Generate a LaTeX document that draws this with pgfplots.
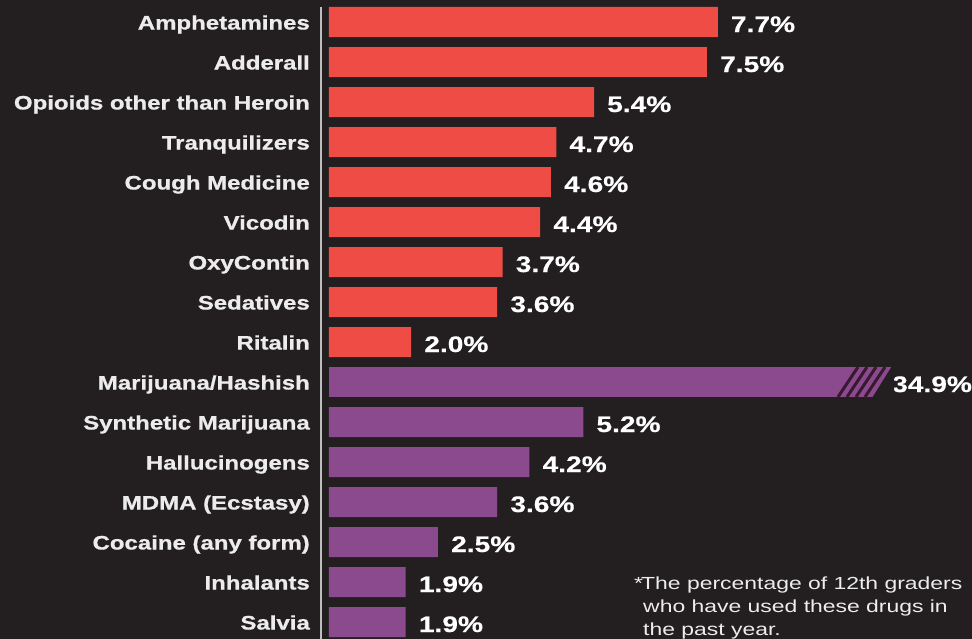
\documentclass[border=0pt]{standalone}
\usepackage{fontspec}
\usepackage{pgfplots}
\pgfplotsset{compat=1.18}
\setmainfont{Liberation Sans}
\newfontfamily\catfont{Liberation Sans}[FakeStretch=1.23, BoldFeatures={FakeBold=0.8}]
\newfontfamily\valfont{Liberation Sans}[FakeStretch=1.25, BoldFeatures={FakeBold=0.4}]
\newfontfamily\footfont{Liberation Sans}[FakeStretch=1.31]
\definecolor{bg}{RGB}{35,31,32}
\definecolor{barred}{RGB}{240,76,70}
\definecolor{barpurple}{RGB}{139,74,141}
\definecolor{darkstripe}{RGB}{55,25,50}
\definecolor{axisgray}{RGB}{190,190,190}
\definecolor{labelgray}{RGB}{236,236,236}
\begin{document}
\begin{tikzpicture}[x=1pt,y=1pt]
\useasboundingbox (0,0) rectangle (972,639);
\clip (0,0) rectangle (972,639);
\fill[bg] (0,0) rectangle (972,639);
\draw[axisgray, line width=1.6pt] (321,0) -- (321,632);
\begin{axis}[
  at={(329pt,1pt)}, anchor=south west,
  scale only axis, width=563pt, height=634pt,
  xbar, bar width=30pt, bar shift=0pt,
  xmin=0.474, xmax=10.939,
  ymin=-0.45, ymax=15.4, y dir=reverse,
  hide x axis,
  axis y line*=left, y axis line style={draw=none},
  ytick={0,...,15}, major tick length=0pt,
  yticklabels={Amphetamines, Adderall, Opioids other than Heroin, Tranquilizers, Cough Medicine, Vicodin, OxyContin, Sedatives, Ritalin, Marijuana/Hashish, Synthetic Marijuana, Hallucinogens, MDMA (Ecstasy), Cocaine (any form), Inhalants, Salvia},
  yticklabel style={anchor=base east, inner sep=0pt, xshift=-19pt, yshift=-7.5pt, font=\catfont\bfseries\fontsize{19.5}{20}\selectfont, text=labelgray},
  clip mode=individual,
  nodes near coords align={anchor=base west},
  every node near coord/.append style={anchor=base west, inner sep=0pt, xshift=13pt, yshift=-10pt, font=\valfont\bfseries\fontsize{22.5}{24}\selectfont, text=white},
]
\addplot[fill=barred, draw=none,
  nodes near coords={\pgfmathprintnumber[fixed,fixed zerofill,precision=1,assume math mode=true]{\pgfplotspointmeta}\%}]
  coordinates {(7.7,0) (7.5,1) (5.4,2) (4.7,3) (4.6,4) (4.4,5) (3.7,6) (3.6,7) (2.0,8)};
\addplot[fill=barpurple, draw=none,
  nodes near coords={\pgfmathprintnumber[fixed,fixed zerofill,precision=1,assume math mode=true]{\pgfplotspointmeta}\%}]
  coordinates {(5.2,10) (4.2,11) (3.6,12) (2.5,13) (1.9,14) (1.9,15)};
\addplot[fill=barpurple, draw=none] coordinates {(34.9,9)};
\node[anchor=base west, inner sep=0pt, yshift=-10pt, font=\valfont\bfseries\fontsize{22.5}{24}\selectfont, text=white] at (axis cs:10.939,9) {34.9\%};
\end{axis}
% broken-bar hatch on the Marijuana bar
\fill[bg] (872,241) -- (892,273) -- (894,273) -- (894,241) -- cycle;
\foreach \x in {838,847,856,865} \draw[darkstripe, line width=3pt] (\x,242) -- (\x+20,272);
\node[anchor=base west, inner sep=0pt, font=\footfont\fontsize{17.5}{23}\selectfont, text=labelgray] at (634,49) {*};
\node[anchor=base west, inner sep=0pt, font=\footfont\fontsize{17.5}{23}\selectfont, text=labelgray] at (641,49) {The percentage of 12th graders};
\node[anchor=base west, inner sep=0pt, font=\footfont\fontsize{17.5}{23}\selectfont, text=labelgray] at (643,26) {who have used these drugs in};
\node[anchor=base west, inner sep=0pt, font=\footfont\fontsize{17.5}{23}\selectfont, text=labelgray] at (643,3) {the past year.};
\end{tikzpicture}
\end{document}
